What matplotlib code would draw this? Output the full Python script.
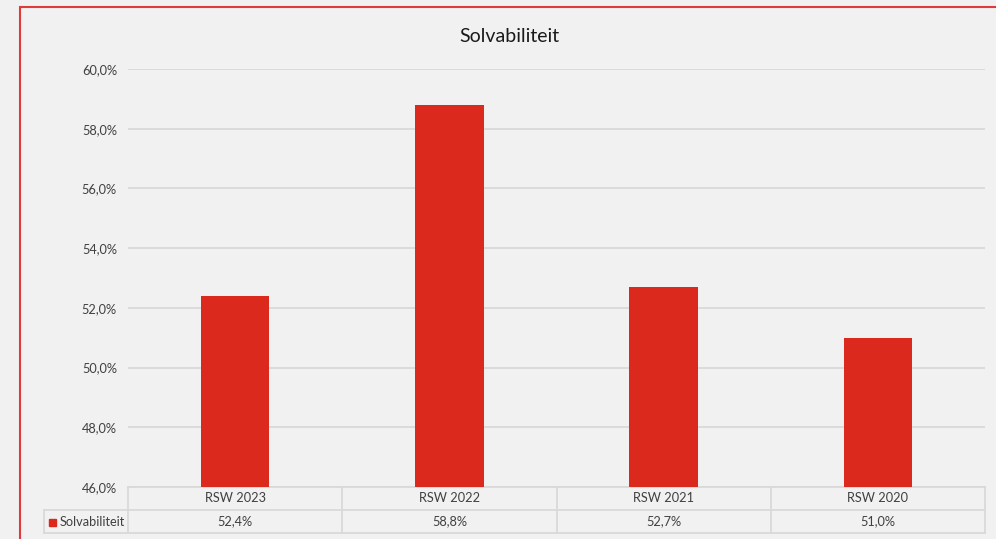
import matplotlib.pyplot as plt
import matplotlib.patches as patches
import numpy as np

plt.rcParams['font.family'] = ['Lato', 'DejaVu Sans']

# data
categories = ['RSW 2023', 'RSW 2022', 'RSW 2021', 'RSW 2020']
values = [52.4, 58.8, 52.7, 51.0]
series_name = 'Solvabiliteit'
yticks = [46, 48, 50, 52, 54, 56, 58, 60]

bar_color = '#dc291e'
grid_color = '#d9d9d9'
text_color = '#404040'
bg = '#f1f1f1'
fs = 9.2

W, H = 996, 539
fig = plt.figure(figsize=(W / 100, H / 100), dpi=100, facecolor=bg)
ax = fig.add_axes([128 / W, 1 - 487 / H, (985 - 128) / W, (487 - 69) / H])
ax.set_facecolor(bg)

x = np.arange(len(categories))
ax.bar(x, values, width=0.32, color=bar_color, zorder=3)
ax.set_xlim(-0.5, len(categories) - 0.5)
ax.set_ylim(46, 60)
ax.set_yticks(yticks)
ax.set_yticklabels([f"{t:.1f}%".replace('.', ',') for t in yticks],
                   fontsize=fs, color=text_color)
ax.tick_params(axis='y', length=0, pad=8)
ax.set_xticks([])
ax.grid(axis='y', color=grid_color, linewidth=1.3, zorder=0)
for s in ax.spines.values():
    s.set_visible(False)

# data table under the axes
rh = 23 / 418
lx = (44 - 128) / 857
tr = ax.transAxes
n = len(categories)
line_kw = dict(transform=tr, color=grid_color, linewidth=1.3, clip_on=False)
ax.plot([0, 1], [0, 0], **line_kw)
ax.plot([lx, 1], [-rh, -rh], **line_kw)
ax.plot([lx, 1], [-2 * rh, -2 * rh], **line_kw)
for i in range(n + 1):
    ax.plot([i / n, i / n], [0, -2 * rh], **line_kw)
ax.plot([lx, lx], [-rh, -2 * rh], **line_kw)
for i, (c, v) in enumerate(zip(categories, values)):
    ax.text((i + 0.5) / n, -rh / 2, c, transform=tr, ha='center', va='center',
            fontsize=fs, color=text_color)
    ax.text((i + 0.5) / n, -1.5 * rh, f"{v:.1f}%".replace('.', ','), transform=tr,
            ha='center', va='center', fontsize=fs, color=text_color)
# legend key
fig.add_artist(patches.Rectangle((49 / W, 1 - 526 / H), 7 / W, 7 / H,
                                 transform=fig.transFigure, color=bar_color))
fig.text(60 / W, 1 - 521.5 / H, series_name, ha='left', va='center',
         fontsize=fs, color=text_color)

fig.text(509 / W, 1 - 37 / H, series_name, ha='center', va='center',
         fontsize=14, color='#1a1a1a')

# red frame
fig.add_artist(patches.Rectangle((20 / W, -0.1), 1.1, 1 - 7 / H + 0.1,
                                 transform=fig.transFigure, fill=False,
                                 edgecolor='#e03a3a', linewidth=1.5))

fig.savefig('out.png', dpi=100, facecolor=bg)
